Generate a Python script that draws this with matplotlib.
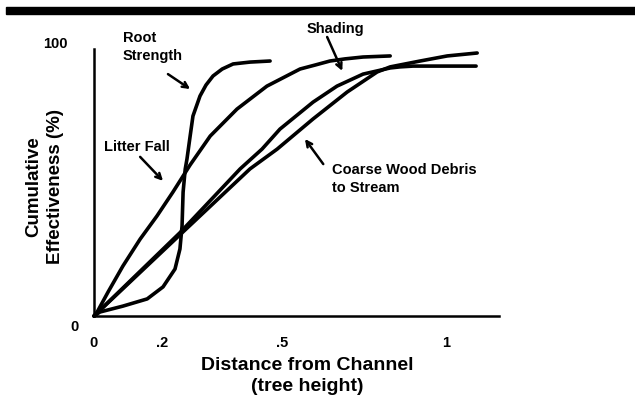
import matplotlib
matplotlib.use("Agg")
import matplotlib.pyplot as plt
from matplotlib.patches import Rectangle

plt.rcParams["font.family"] = ["Liberation Sans", "DejaVu Sans"]
plt.rcParams["font.weight"] = "bold"

# Curves (x in tree heights, y in % effectiveness)
root_x = [0, 0.017, 0.082, 0.151, 0.196, 0.230, 0.244, 0.250, 0.253, 0.259, 0.264,
          0.273, 0.281, 0.301, 0.318, 0.338, 0.364, 0.395, 0.443, 0.5]
root_y = [0, 1.5, 3.7, 6.4, 10.9, 17.6, 25.1, 33.7, 46.4, 55.0, 58.8,
          67.4, 74.9, 82.4, 86.5, 89.9, 92.5, 94.4, 95.1, 95.5]

litter_x = [0, 0.009, 0.040, 0.082, 0.131, 0.179, 0.224, 0.273, 0.330, 0.406, 0.491, 0.585,
            0.628, 0.670, 0.713, 0.764, 0.841]
litter_y = [0, 1.5, 9.0, 18.7, 28.8, 37.5, 46.4, 56.6, 67.4, 77.5, 86.1, 92.5,
            94.0, 95.5, 96.3, 97.0, 97.4]

shading_x = [0, 0.244, 0.415, 0.477, 0.528, 0.622, 0.690, 0.764, 0.841, 0.869, 0.906, 1.085]
shading_y = [0, 31.2, 55.1, 62.5, 70.0, 80.1, 86.1, 90.6, 92.9, 93.3, 93.6, 93.6]

wood_x = [0, 0.244, 0.443, 0.520, 0.622, 0.719, 0.804, 0.841, 0.926, 1.003, 1.088]
wood_y = [0, 30.4, 55.1, 62.5, 73.8, 83.9, 91.4, 93.3, 95.5, 97.4, 98.5]

tick_pos = [0, 0.193, 0.534, 1.0]
tick_labels = ["0", ".2", ".5", "1"]

fig = plt.figure(figsize=(6.35, 4.06), dpi=100)
ax = fig.add_axes([94 / 635, 89 / 406, 405 / 635, 267 / 406])

# black bar at the top of the scan
fig.patches.append(Rectangle((6 / 635, 1 - 15 / 406), 1, 7 / 406,
                             transform=fig.transFigure, color="black", zorder=5))

for xs, ys in [(root_x, root_y), (litter_x, litter_y), (shading_x, shading_y), (wood_x, wood_y)]:
    ax.plot(xs, ys, color="black", lw=2.6, solid_capstyle="round",
            solid_joinstyle="round", clip_on=False)

ax.set_xlim(0, 1.15)
ax.set_ylim(0, 100)
for s in ["top", "right"]:
    ax.spines[s].set_visible(False)
for s in ["left", "bottom"]:
    ax.spines[s].set_linewidth(1.8)

ax.set_xticks(tick_pos)
ax.set_xticklabels(tick_labels, fontsize=10.5, fontweight="bold")
ax.tick_params(axis="x", length=0, pad=14)
ax.set_yticks([])

ax.annotate("100", xy=(0, 100), xycoords=("axes fraction", "data"),
            xytext=(-19, 4), textcoords="offset points", ha="right", va="center",
            fontsize=10.5, fontweight="bold")
ax.annotate("0", xy=(0, 0), xycoords=("axes fraction", "data"),
            xytext=(-11, -7), textcoords="offset points", ha="right", va="center",
            fontsize=10.5, fontweight="bold")

fig.text(307 / 635, 1 - 357 / 406, "Distance from Channel\n(tree height)",
         ha="center", va="top", fontsize=14, fontweight="bold", linespacing=1.3)
fig.text(45 / 635, 1 - 187 / 406, "Cumulative\nEffectiveness (%)", rotation=90,
         ha="center", va="center", fontsize=13.5, fontweight="bold", linespacing=1.35)

# curve labels and arrows
lab = dict(fontsize=10.5, fontweight="bold", clip_on=False)
ax.text(0.082, 107, "Root\nStrength", ha="left", va="top", linespacing=1.3, **lab)
ax.text(0.028, 63.7, "Litter Fall", ha="left", va="center", **lab)
ax.text(0.605, 107.9, "Shading", ha="left", va="center", **lab)
ax.text(0.676, 57.7, "Coarse Wood Debris\nto Stream", ha="left", va="top", linespacing=1.35, **lab)

arrows = [((0.210, 90.6), (0.273, 85.0)),
          ((0.131, 59.6), (0.196, 50.6)),
          ((0.662, 104.5), (0.705, 91.8)),
          ((0.651, 56.9), (0.599, 66.3))]
for tail, head in arrows:
    ax.annotate("", xy=head, xytext=tail, annotation_clip=False,
                arrowprops=dict(arrowstyle="->", lw=1.8, color="black",
                                mutation_scale=10, shrinkA=0, shrinkB=0))

fig.savefig("out.png", dpi=100, facecolor="white")
